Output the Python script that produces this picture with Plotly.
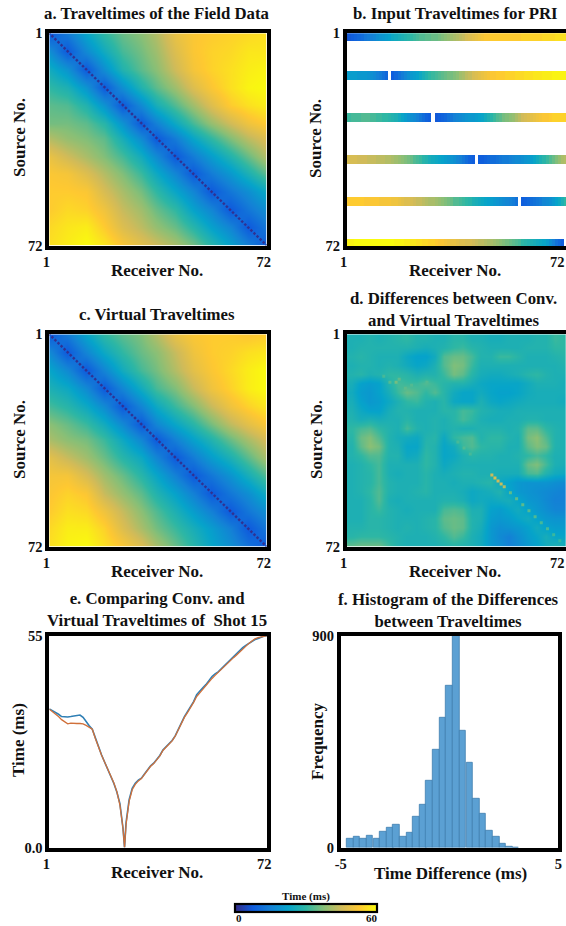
import plotly.graph_objects as go

W, H = 566, 926
FONT = "Liberation Serif"

# ---------- data ----------
grid_nodes = [1, 7, 13, 19, 25, 31, 36, 42, 48, 54, 60, 66, 72]

field_times = [
    [7, 14, 23, 30, 35, 38, 42, 49, 52, 53, 54, 55, 56],
    [18, 7, 17, 25, 32, 36, 40, 47, 52, 54, 55, 57, 57],
    [25, 19, 7, 18, 28, 34, 38, 45, 51, 54, 56, 58, 59],
    [30, 27, 19, 7, 18, 28, 34, 40, 47, 52, 56, 59, 60],
    [34, 33, 28, 19, 7, 17, 26, 33, 40, 47, 53, 56, 58],
    [36, 36, 34, 29, 19, 7, 15, 24, 32, 39, 45, 50, 53],
    [42, 39, 37, 34, 26, 17, 7, 14, 23, 30, 37, 43, 47],
    [49, 45, 41, 37, 32, 25, 17, 7, 14, 21, 28, 35, 42],
    [52, 51, 47, 42, 37, 31, 24, 16, 7, 14, 20, 27, 34],
    [53, 53, 52, 46, 41, 36, 30, 23, 16, 7, 13, 18, 24],
    [53, 55, 54, 50, 44, 40, 35, 30, 22, 16, 7, 13, 18],
    [55, 57, 58, 53, 47, 43, 39, 35, 29, 22, 16, 7, 13],
    [56, 58, 60, 57, 52, 48, 45, 41, 36, 29, 22, 15, 7],
]

virtual_times = [
    [7, 14, 23, 30, 34, 37, 42, 49, 52, 53, 53, 52, 53],
    [17, 7, 16, 24, 30, 35, 38, 44, 50, 53, 54, 56, 57],
    [23, 17, 7, 16, 25, 32, 36, 42, 48, 52, 55, 58, 60],
    [27, 24, 17, 7, 16, 25, 32, 37, 44, 50, 54, 58, 60],
    [32, 29, 24, 17, 7, 16, 24, 31, 37, 44, 50, 54, 57],
    [38, 35, 31, 25, 17, 7, 16, 23, 29, 36, 43, 48, 52],
    [41, 38, 36, 31, 24, 16, 7, 15, 22, 28, 35, 41, 46],
    [48, 44, 40, 35, 29, 24, 16, 7, 14, 21, 27, 34, 41],
    [51, 51, 46, 40, 35, 29, 23, 15, 7, 13, 19, 26, 33],
    [52, 54, 52, 44, 39, 34, 28, 22, 15, 7, 13, 18, 25],
    [53, 56, 55, 50, 44, 38, 33, 27, 21, 15, 7, 13, 18],
    [55, 58, 58, 54, 47, 41, 36, 31, 26, 21, 15, 7, 13],
    [56, 59, 60, 56, 52, 47, 41, 35, 29, 23, 18, 12, 7],
]

diag_receivers = list(range(1, 73))
diag_levels = [1] * 72

# input traveltimes: one list per recorded shot
input_rows = [2, 15, 29, 43, 57, 71]
input_shot_1 = [
    6, 7, 8, 9, 10, 11, 13, 14, 15, 16, 18, 19,
    20, 21, 22, 24, 25, 26, 27, 28, 29, 30, 31, 32,
    33, 33, 34, 34, 35, 35, 36, 37, 38, 39, 40, 41,
    42, 43, 44, 46, 47, 48, 49, 50, 51, 52, 52, 53,
    53, 53, 53, 53, 53, 53, 53, 53, 53, 54, 54, 54,
    54, 54, 54, 54, 55, 55, 55, 55, 56, 56, 56, 56]
input_shot_15 = [
    21, 21, 21, 21, 20, 20, 20, 19, 18, 17, 15, 14,
    12, 10, None, 8, 10, 12, 14, 16, 18, 20, 21, 22,
    24, 26, 28, 30, 31, 32, 33, 34, 35, 36, 36, 37,
    38, 40, 41, 43, 44, 46, 47, 48, 49, 50, 51, 52,
    52, 53, 53, 53, 54, 54, 54, 55, 55, 55, 56, 56,
    56, 57, 57, 57, 58, 58, 58, 59, 59, 59, 59, 59]
input_shot_29 = [
    31, 31, 32, 32, 32, 33, 33, 33, 32, 32, 31, 31,
    30, 30, 29, 28, 27, 25, 23, 21, 19, 18, 17, 15,
    13, 11, 9, 8, None, 7, 8, 9, 10, 12, 13, 15,
    16, 17, 18, 19, 20, 20, 21, 22, 23, 25, 27, 29,
    31, 33, 34, 36, 37, 38, 39, 41, 43, 45, 46, 47,
    48, 49, 50, 51, 52, 52, 53, 54, 54, 54, 54, 54]
input_shot_43 = [
    46, 46, 46, 46, 45, 45, 45, 44, 44, 44, 43, 43,
    43, 42, 42, 41, 40, 39, 38, 37, 36, 35, 33, 32,
    31, 29, 28, 26, 25, 24, 23, 22, 21, 20, 19, 18,
    16, 15, 13, 11, 9, 8, None, 8, 8, 9, 10, 11,
    11, 12, 13, 14, 14, 15, 16, 17, 17, 18, 19, 20,
    21, 23, 25, 27, 29, 31, 33, 35, 37, 39, 41, 42]
input_shot_57 = [
    52, 53, 53, 53, 53, 53, 52, 52, 52, 52, 52, 51,
    51, 51, 51, 50, 50, 49, 48, 47, 47, 46, 45, 44,
    44, 43, 42, 41, 41, 40, 39, 38, 37, 36, 35, 33,
    33, 32, 31, 30, 29, 27, 26, 25, 24, 23, 22, 21,
    20, 19, 18, 17, 16, 15, 14, 12, None, 8, 9, 10,
    11, 12, 13, 14, 16, 17, 18, 20, 22, 24, 27, 30]
input_shot_72 = [
    58, 59, 59, 60, 60, 60, 60, 60, 60, 60, 60, 60,
    60, 60, 60, 60, 59, 59, 59, 58, 58, 57, 57, 56,
    56, 55, 55, 54, 54, 53, 52, 52, 51, 50, 49, 49,
    48, 47, 47, 46, 46, 45, 44, 43, 43, 42, 41, 41,
    40, 39, 38, 37, 36, 35, 34, 33, 32, 30, 29, 28,
    27, 26, 25, 24, 23, 21, 18, 15, 12, 10, 8, None]

# differences map, shown on the same colour bar
diff_nodes = [2.5, 5.5, 8.5, 11.5, 14.5, 17.5, 20.5, 23.5, 26.5, 29.5, 32.5, 35.5,
              38.5, 41.5, 44.5, 47.5, 50.5, 53.5, 56.5, 59.5, 62.5, 65.5, 68.5, 71.5]
diff_map = [
    [27, 27, 28, 27, 28, 29, 30, 28, 28, 27, 27, 29, 29, 27, 27, 26, 26, 27, 27, 27, 28, 28, 31, 30],
    [27, 28, 28, 28, 28, 28, 28, 27, 26, 27, 28, 30, 31, 29, 28, 27, 27, 27, 27, 28, 28, 28, 30, 30],
    [28, 29, 28, 27, 27, 27, 24, 22, 22, 25, 33, 35, 35, 32, 28, 28, 31, 31, 29, 27, 27, 27, 28, 29],
    [27, 28, 28, 27, 28, 27, 25, 23, 24, 27, 33, 37, 36, 31, 27, 27, 27, 27, 27, 27, 27, 27, 27, 28],
    [28, 29, 27, 28, 30, 30, 29, 27, 28, 28, 31, 36, 34, 29, 26, 25, 25, 26, 27, 29, 30, 28, 27, 27],
    [26, 22, 21, 22, 28, 32, 31, 31, 33, 31, 29, 28, 28, 26, 24, 23, 23, 23, 23, 25, 27, 27, 27, 26],
    [25, 21, 20, 22, 26, 31, 35, 33, 30, 33, 29, 25, 23, 23, 25, 23, 22, 22, 23, 25, 26, 26, 26, 26],
    [26, 22, 20, 21, 24, 27, 30, 31, 28, 27, 29, 24, 23, 23, 27, 24, 23, 24, 25, 26, 26, 26, 26, 25],
    [27, 24, 22, 22, 26, 28, 28, 27, 27, 27, 29, 29, 32, 31, 28, 27, 26, 26, 27, 27, 27, 27, 27, 27],
    [28, 26, 27, 26, 27, 27, 29, 27, 27, 28, 27, 29, 32, 30, 27, 26, 26, 27, 27, 28, 28, 27, 27, 27],
    [30, 32, 33, 30, 28, 27, 32, 28, 27, 28, 27, 28, 27, 27, 28, 28, 28, 27, 28, 34, 34, 30, 28, 27],
    [29, 35, 37, 33, 28, 26, 25, 24, 28, 29, 24, 30, 32, 33, 28, 30, 30, 28, 27, 36, 38, 33, 28, 27],
    [28, 34, 38, 36, 28, 27, 23, 23, 29, 28, 23, 25, 31, 33, 30, 29, 29, 27, 27, 34, 37, 35, 28, 27],
    [28, 30, 33, 33, 28, 28, 24, 25, 30, 28, 23, 24, 27, 29, 28, 28, 27, 27, 28, 30, 32, 30, 27, 27],
    [27, 28, 30, 32, 27, 27, 27, 27, 30, 28, 24, 26, 27, 27, 27, 27, 27, 27, 27, 35, 37, 32, 27, 26],
    [27, 28, 29, 32, 27, 26, 27, 27, 29, 27, 26, 27, 28, 28, 27, 27, 26, 26, 26, 32, 33, 28, 25, 24],
    [27, 28, 29, 32, 28, 27, 27, 27, 29, 27, 27, 26, 27, 27, 28, 29, 24, 22, 20, 19, 19, 19, 18, 17],
    [27, 28, 30, 33, 28, 27, 27, 28, 29, 27, 27, 27, 26, 24, 25, 26, 28, 23, 20, 19, 18, 17, 16, 15],
    [27, 27, 29, 33, 27, 26, 27, 27, 27, 27, 28, 28, 27, 24, 25, 24, 25, 26, 23, 20, 19, 17, 15, 15],
    [27, 27, 29, 31, 28, 27, 26, 27, 27, 27, 32, 33, 32, 27, 27, 22, 21, 23, 25, 22, 20, 18, 16, 16],
    [27, 27, 29, 29, 28, 27, 27, 27, 28, 29, 34, 35, 34, 28, 27, 21, 20, 21, 23, 25, 22, 20, 19, 19],
    [28, 28, 29, 29, 28, 27, 28, 27, 28, 29, 33, 35, 34, 28, 26, 20, 18, 19, 20, 22, 25, 22, 21, 21],
    [29, 30, 30, 30, 29, 28, 27, 27, 27, 28, 30, 33, 31, 27, 25, 20, 17, 15, 18, 21, 23, 26, 23, 23],
    [34, 35, 35, 35, 31, 28, 27, 27, 27, 27, 28, 29, 28, 27, 25, 20, 18, 15, 17, 20, 22, 25, 27, 26],
]

diff_dot_receivers = [13, 15, 17, 18, 20, 22, 27, 37, 39, 41, 48, 49, 50, 51, 52, 54, 56, 58, 60, 62, 64, 66, 68, 70]
diff_dot_sources = [15, 17, 17, 16, 19, 18, 17, 37, 39, 41, 48, 49, 50, 51, 52, 54, 56, 58, 60, 62, 64, 66, 68, 70]
diff_dot_levels = [32, 33, 36, 34, 34, 33, 33, 32, 33, 32, 44, 46, 45, 44, 42, 34, 34, 34, 33, 33, 32, 32, 31, 30]

# shot 15 picks
shot_receivers = [
    1, 2, 3, 4, 5, 6, 7, 8, 9, 10, 11, 12, 13, 14, 15, 16, 17, 18, 19, 20, 21, 22, 23, 24, 25,
    25.5,
    26, 27, 28, 29, 30, 31, 32, 33, 34, 35, 36, 37, 38, 39, 40, 41, 42, 43, 44, 45, 46, 47, 48,
    49, 50, 51, 52, 53, 54, 55, 56, 57, 58, 59, 60, 61, 62, 63, 64, 65, 66, 67, 68, 69, 70, 71, 72]
conv_times = [
    36.0, 35.6, 35.2, 34.6, 34.0, 33.9, 33.9, 34.0, 34.1, 34.3, 34.4, 33.8, 32.6, 31.6, 30.7,
    28.4, 26.0, 24.1, 22.2, 20.5, 18.7, 16.7, 14.4, 11.4, 5.0,
    0.0,
    6.5, 12.4, 15.4, 16.7, 17.5, 18.0, 19.1, 20.3, 21.2, 21.9, 22.8, 23.9, 25.3, 26.1, 26.8,
    27.8, 29.0, 30.8, 32.6, 34.0, 35.3, 36.6, 37.9, 39.7, 40.7, 41.5, 42.3, 43.4, 44.4, 45.1,
    45.6, 46.4, 47.2, 47.9, 48.7, 49.4, 50.2, 51.0, 51.9, 52.5, 53.0, 53.6, 54.0, 54.3, 54.7, 54.9, 55.0]
virtual_shot_times = [
    35.9, 35.3, 34.7, 34.0, 33.2, 32.6, 32.1, 32.3, 32.2, 32.2, 32.2, 32.1, 31.7, 31.3, 30.7,
    28.3, 25.9, 24.0, 22.2, 20.5, 18.8, 16.8, 14.5, 11.0, 5.0,
    0.0,
    6.0, 12.0, 15.0, 16.4, 17.3, 17.9, 19.0, 20.2, 21.1, 21.8, 22.7, 23.8, 25.2, 26.0, 26.7,
    27.7, 28.9, 30.6, 32.4, 33.8, 35.0, 36.2, 37.7, 39.2, 40.2, 41.0, 42.0, 43.0, 43.9, 44.7,
    45.5, 46.3, 47.1, 47.8, 48.6, 49.3, 50.0, 50.8, 51.6, 52.3, 53.0, 53.6, 54.2, 54.5, 54.7, 54.9, 55.0]

# histogram of the differences
hist_centers = [-4.57, -4.27, -3.96, -3.66, -3.35, -3.05, -2.74, -2.44, -2.13, -1.83, -1.52, -1.22, -0.92,
                -0.61, -0.31, 0.0, 0.31, 0.61, 0.92, 1.22, 1.53, 1.83, 2.14, 2.44, 2.75, 3.05]
hist_counts = [39, 46, 38, 49, 38, 66, 86, 98, 45, 63, 131, 184, 285,
               416, 550, 689, 1000, 498, 360, 208, 146, 73, 48, 17, 3, 1]

parula = [
    [0.0, "#352a87"], [0.125, "#0f5cdd"], [0.25, "#1481d6"], [0.375, "#06a4ca"],
    [0.5, "#2eb7a4"], [0.625, "#87bf77"], [0.75, "#d1bb59"], [0.875, "#fec832"], [1.0, "#f9fb0e"],
]

# ---------- layout helpers (pixels of the page) ----------
def xdom(a, b):
    return [a / W, min(b / W, 1.0)]

def ydom(top, bottom):
    return [1 - bottom / H, 1 - top / H]

panels = {
    "a": dict(x=(49.3, 266.7), y=(33.3, 245.5)),
    "b": dict(x=(346.7, 566), y=(33.3, 246)),
    "c": dict(x=(49.3, 266.7), y=(334.3, 546.7)),
    "d": dict(x=(346.7, 566), y=(334.3, 546.7)),
    "e": dict(x=(49.3, 267.3), y=(635.7, 847.5)),
    "f": dict(x=(340.7, 558.3), y=(635.7, 847.7)),
}

fig = go.Figure()

fig.add_trace(go.Heatmap(x=grid_nodes, y=grid_nodes, z=field_times, coloraxis="coloraxis",
                         zsmooth="best", xaxis="x", yaxis="y"))
fig.add_trace(go.Scatter(x=diag_receivers, y=diag_receivers, mode="markers", xaxis="x", yaxis="y",
                         marker=dict(color=diag_levels, coloraxis="coloraxis", size=2.6, symbol="diamond"),
                         showlegend=False))

input_z = [[None] * 72 for _ in range(72)]
for row, vals in zip(input_rows, [input_shot_1, input_shot_15, input_shot_29,
                                  input_shot_43, input_shot_57, input_shot_72]):
    for r in (row - 1, row, row + 1):
        input_z[r - 1] = vals
fig.add_trace(go.Heatmap(x=diag_receivers, y=diag_receivers, z=input_z, coloraxis="coloraxis",
                         xaxis="x2", yaxis="y2"))

fig.add_trace(go.Heatmap(x=grid_nodes, y=grid_nodes, z=virtual_times, coloraxis="coloraxis",
                         zsmooth="best", xaxis="x3", yaxis="y3"))
fig.add_trace(go.Scatter(x=diag_receivers, y=diag_receivers, mode="markers", xaxis="x3", yaxis="y3",
                         marker=dict(color=diag_levels, coloraxis="coloraxis", size=2.6, symbol="diamond"),
                         showlegend=False))

fig.add_trace(go.Heatmap(x=diff_nodes, y=diff_nodes, z=diff_map, coloraxis="coloraxis",
                         zsmooth="best", xaxis="x4", yaxis="y4"))
fig.add_trace(go.Scatter(x=diff_dot_receivers, y=diff_dot_sources, mode="markers", xaxis="x4", yaxis="y4",
                         marker=dict(color=diff_dot_levels, coloraxis="coloraxis", size=3, symbol="square"),
                         showlegend=False))

fig.add_trace(go.Scatter(x=shot_receivers, y=conv_times, mode="lines", xaxis="x5", yaxis="y5",
                         line=dict(color="#2f7fb5", width=1.6), showlegend=False))
fig.add_trace(go.Scatter(x=shot_receivers, y=virtual_shot_times, mode="lines", xaxis="x5", yaxis="y5",
                         line=dict(color="#d0703a", width=1.3), showlegend=False))

fig.add_trace(go.Bar(x=hist_centers, y=hist_counts, width=0.305, xaxis="x6", yaxis="y6",
                     marker=dict(color="#5ba0d3", line=dict(color="#3f7fae", width=0.8)),
                     showlegend=False))

tick_font = dict(family=FONT, size=14.5, color="#111111")

def axis(dom, rng, vals, text, **kw):
    return dict(domain=dom, range=rng, tickmode="array", tickvals=vals, ticktext=text,
                showgrid=False, zeroline=False, ticks="", showline=True, mirror=True,
                linecolor="black", linewidth=3.6, tickfont=tick_font, **kw)

layout = dict(width=W, height=H, margin=dict(l=0, r=0, t=0, b=0, autoexpand=False), autosize=False,
              paper_bgcolor="white", plot_bgcolor="white", showlegend=False,
              bargap=0,
              coloraxis=dict(colorscale=parula, cmin=0, cmax=60,
                             colorbar=dict(orientation="h", x=306 / W, xanchor="center",
                                           y=1 - 891 / H, yanchor="top",
                                           lenmode="pixels", len=142, thicknessmode="pixels", thickness=8,
                                           outlinecolor="black", outlinewidth=2.2, tickmode="array",
                                           tickvals=[0, 60], showticklabels=False, ticks="",
                                           xpad=0, ypad=0,
                                           title=dict(text="<b>Time (ms)</b>", side="top",
                                                      font=dict(family=FONT, size=11, color="#111111")))))

B1, B72 = "<b>1</b>", "<b>72</b>"
names = ["a", "b", "c", "d", "e", "f"]
for i, n in enumerate(names):
    sfx = "" if i == 0 else str(i + 1)
    p = panels[n]
    xd, yd = xdom(*p["x"]), ydom(*p["y"])
    ax_kw = dict(anchor="y" + sfx)
    ay_kw = dict(anchor="x" + sfx)
    if n in "ac":
        layout["xaxis" + sfx] = axis(xd, [1, 72], [1, 72], [B1, B72], ticklabelshift=-3, **ax_kw)
        layout["yaxis" + sfx] = axis(yd, [72, 1], [1, 72], [B1, B72], **ay_kw)
    elif n in "bd":
        layout["xaxis" + sfx] = axis(xd, [1, 72], [1], [B1], ticklabelshift=-3, **ax_kw)
        layout["yaxis" + sfx] = axis(yd, [72, 1], [1, 72], [B1, B72], **ay_kw)
    elif n == "e":
        layout["xaxis" + sfx] = axis(xd, [1, 72], [1, 72], [B1, B72], ticklabelshift=-3, **ax_kw)
        layout["yaxis" + sfx] = axis(yd, [0, 55], [0, 55], ["<b>0.0</b>", "<b>55</b>"], **ay_kw)
    else:
        layout["xaxis" + sfx] = axis(xd, [-5, 5], [-5, 5], ["<b>-5</b>", "<b>5</b>"], **ax_kw)
        layout["yaxis" + sfx] = axis(yd, [0, 900], [0, 900], ["<b>0</b>", "<b>900</b>"], **ay_kw)

def label(text, x, y, size=16.8, angle=0, yanchor="middle"):
    return dict(text="<b>%s</b>" % text, x=x / W, y=1 - y / H, xref="paper", yref="paper",
                showarrow=False, xanchor="center", yanchor=yanchor, textangle=angle,
                font=dict(family=FONT, size=size, color="#111111"))

titles = [
    ("a. Traveltimes of the Field Data", 157, 14),
    ("b. Input Traveltimes for PRI", 455, 14),
    ("c. Virtual Traveltimes", 157, 314),
    ("d. Differences between Conv.<br>and Virtual Traveltimes", 453, 309),
    ("e. Comparing Conv. and<br>Virtual Traveltimes of  Shot 15", 157, 609),
    ("f. Histogram of the Differences<br>between Traveltimes", 448, 610),
]
x_titles = [
    ("Receiver No.", 157, 270), ("Receiver No.", 455, 270),
    ("Receiver No.", 157, 571), ("Receiver No.", 455, 571),
    ("Receiver No.", 157, 872), ("Time Difference (ms)", 450, 873),
]
y_titles = [
    ("Source No.", 19, 138), ("Source No.", 316, 139),
    ("Source No.", 19, 440), ("Source No.", 316, 440),
    ("Time (ms)", 18, 740), ("Frequency", 317, 741),
]
right_ticks = [("72", 557, 262), ("72", 557, 563)]
bar_ticks = [("0", 239, 925.5), ("60", 372, 925.5)]

layout["annotations"] = (
    [label(t, x, y) for t, x, y in titles]
    + [label(t, x, y, size=17) for t, x, y in x_titles]
    + [label(t, x, y, size=17, angle=-90) for t, x, y in y_titles]
    + [label(t, x, y, size=14.5) for t, x, y in right_ticks]
    + [label(t, x, y, size=11, yanchor="bottom") for t, x, y in bar_ticks]
)

fig.update_layout(**layout)
fig.write_html("out.html", config=dict(displayModeBar=False),
               post_script="document.body.style.margin='0';document.body.style.overflow='hidden';")
